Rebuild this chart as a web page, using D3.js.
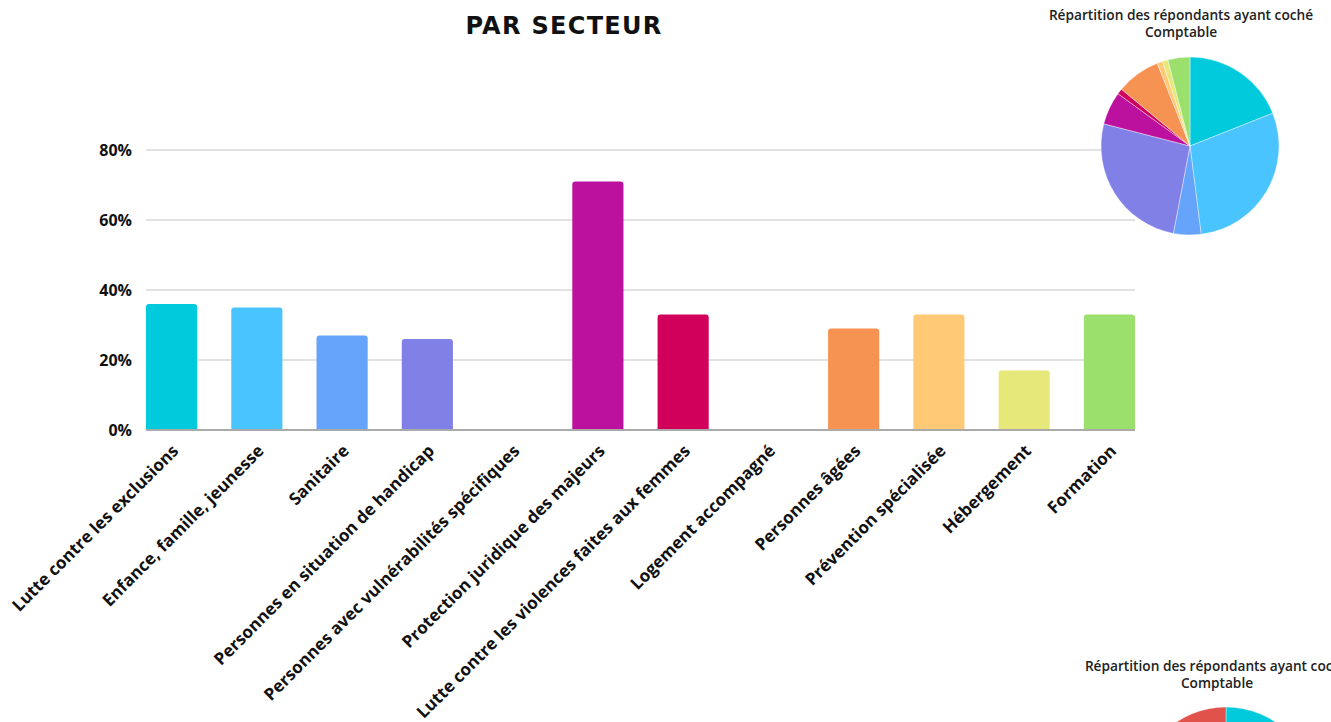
<!DOCTYPE html>
<html>
<head>
<meta charset="utf-8">
<script src="https://cdn.jsdelivr.net/npm/d3@7"></script>
<style>
  body { margin: 0; background: #fff; }
  svg { display: block; }
</style>
</head>
<body>
<div id="chart"></div>
<script>
// données du graphique "par secteur"
var sectors = ["Lutte contre les exclusions", "Enfance, famille, jeunesse", "Sanitaire",
  "Personnes en situation de handicap", "Personnes avec vulnérabilités spécifiques",
  "Protection juridique des majeurs", "Lutte contre les violences faites aux femmes",
  "Logement accompagné", "Personnes âgées", "Prévention spécialisée", "Hébergement", "Formation"];
var sectorValues = [36, 35, 27, 26, 0, 71, 33, 0, 29, 33, 17, 33];
var sectorColors = ["#00cadc", "#4ac4ff", "#66a3fa", "#8080e6", "#a066d8", "#bb119e",
  "#d1005a", "#e0524a", "#f79352", "#ffc975", "#e6e87a", "#9be06d"];
var yTicks = [0, 20, 40, 60, 80];

// camembert "Comptable" (secteurs non nuls)
var pieLabels = ["Lutte contre les exclusions", "Enfance, famille, jeunesse", "Sanitaire",
  "Personnes en situation de handicap", "Protection juridique des majeurs",
  "Lutte contre les violences faites aux femmes", "Personnes âgées",
  "Prévention spécialisée", "Hébergement", "Formation"];
var pieValues = [19, 29, 5, 26, 6, 1, 8, 1, 1, 4];
var pieColors = ["#00cadc", "#4ac4ff", "#66a3fa", "#8080e6", "#bb119e", "#d1005a",
  "#f79352", "#ffc975", "#e6e87a", "#9be06d"];

// deuxième camembert (coupé en bas de page)
var pie2Values = [50, 50];
var pie2Colors = ["#00cadc", "#e0524a"];

var W = 1331, H = 722;
var margin = ({top: 150, right: 196, bottom: 292, left: 146});

var svg = d3.select("#chart").append("svg")
    .attr("width", W).attr("height", H)
    .attr("viewBox", [0, 0, W, H]);

var x = d3.scaleBand()
    .domain(sectors)
    .range([margin.left, W - margin.right])
    .paddingInner(0.4)
    .paddingOuter(0);

var y = d3.scaleLinear()
    .domain([0, 80])
    .range([H - margin.bottom, margin.top]);

// grille
svg.append("g")
  .selectAll("line")
  .data(yTicks.slice(1))
  .join("line")
    .attr("x1", margin.left).attr("x2", W - margin.right)
    .attr("y1", d => y(d)).attr("y2", d => y(d))
    .attr("stroke", "#d9d9d9")
    .attr("stroke-width", 1.5);

// axe y
var yAxis = g => g
    .attr("transform", `translate(${margin.left},0)`)
    .call(d3.axisLeft(y).tickValues(yTicks).tickFormat(d => d + "%").tickSize(0).tickPadding(14))
    .call(g => g.select(".domain").remove())
    .call(g => g.selectAll("text")
        .attr("font-family", "'Open Sans', sans-serif")
        .attr("font-weight", 700)
        .attr("font-size", "16px")
        .attr("fill", "#111"));
svg.append("g").call(yAxis);

// barres avec coins arrondis en haut
function barPath(x0, y0, w, h, r) {
  if (h <= 0) return "";
  r = Math.min(r, h, w / 2);
  return `M${x0},${y0 + h}V${y0 + r}Q${x0},${y0} ${x0 + r},${y0}H${x0 + w - r}Q${x0 + w},${y0} ${x0 + w},${y0 + r}V${y0 + h}Z`;
}

svg.append("g")
  .selectAll("path")
  .data(sectorValues)
  .join("path")
    .attr("d", (d, i) => barPath(x(sectors[i]), y(d), x.bandwidth(), y(0) - y(d), 3))
    .attr("fill", (d, i) => sectorColors[i]);

// ligne de base
svg.append("line")
    .attr("x1", margin.left).attr("x2", W - margin.right)
    .attr("y1", y(0)).attr("y2", y(0))
    .attr("stroke", "#aaa")
    .attr("stroke-width", 2);

// étiquettes x inclinées
svg.append("g")
  .selectAll("text")
  .data(sectors)
  .join("text")
    .attr("transform", d => `translate(${x(d) + x.bandwidth() / 2 + 8},${y(0) + 22}) rotate(-45)`)
    .attr("text-anchor", "end")
    .attr("font-family", "'Open Sans', sans-serif")
    .attr("font-weight", 700)
    .attr("font-size", "17px")
    .attr("fill", "#111")
    .text(d => d);

// titre
svg.append("text")
    .attr("x", 564).attr("y", 34)
    .attr("text-anchor", "middle")
    .attr("font-family", "'DejaVu Sans', sans-serif")
    .attr("font-weight", 700)
    .attr("font-size", "24px")
    .attr("letter-spacing", "1.3px")
    .attr("fill", "#111")
    .text("PAR SECTEUR");

// camemberts
function drawPie(values, colors, cx, cy, r, tx, ty) {
  var g = svg.append("g");
  var t = g.append("text")
      .attr("text-anchor", "middle")
      .attr("font-family", "'Open Sans', sans-serif")
      .attr("font-weight", 600)
      .attr("font-size", "13.7px")
      .attr("fill", "#222");
  t.append("tspan").attr("x", tx).attr("y", ty).text("Répartition des répondants ayant coché");
  t.append("tspan").attr("x", tx).attr("y", ty + 17).text("Comptable");

  var arcs = d3.pie().sort(null)(values);
  var arc = d3.arc().innerRadius(0).outerRadius(r);
  g.append("g")
      .attr("transform", `translate(${cx},${cy})`)
    .selectAll("path")
    .data(arcs)
    .join("path")
      .attr("d", arc)
      .attr("fill", (d, i) => colors[i])
      .attr("stroke", "#fff")
      .attr("stroke-width", 0.4);
}

drawPie(pieValues, pieColors, 1190, 146, 89, 1181, 20);
drawPie(pie2Values, pie2Colors, 1226, 796, 89, 1217, 671);
</script>
</body>
</html>
